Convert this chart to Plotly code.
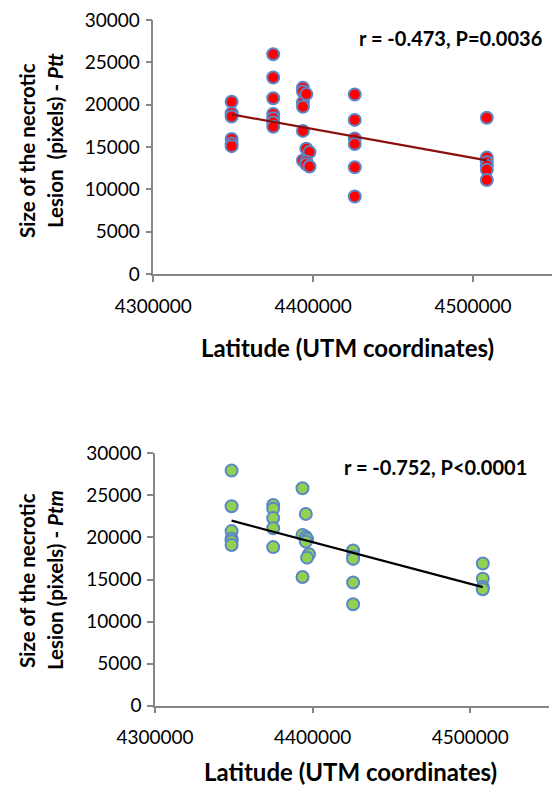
import numpy as np
import plotly.graph_objects as go

# the page adds an 8 px body margin, so the figure is 8 px smaller than the window
OFF = 8
W, H = 560 - OFF, 788 - OFF

# ---- Data: Ptt (top panel) ----
ptt_lat = ([4349000]*6 + [4375000]*7 +
           [4393600, 4393600, 4393600, 4393600, 4393600, 4395700, 4393600,
            4395700, 4397700, 4395700, 4395700, 4397700] +
           [4426000]*6 + [4508600]*6)
ptt_size = [20350, 19000, 18600, 15950, 15400, 15100,
            25950, 23200, 20750, 18900, 18400, 17900, 17400,
            22000, 21550, 20250, 19750, 16900, 21250, 13400,
            14800, 14400, 13300, 12950, 12700,
            21200, 18200, 16000, 15350, 12600, 9150,
            18450, 13750, 13200, 12800, 12300, 11100]

# ---- Data: Ptm (bottom panel) ----
ptm_lat = ([4348600]*6 + [4375000]*5 +
           [4393600, 4395700, 4393600, 4395700, 4396500, 4395700, 4397700, 4396500, 4393600] +
           [4425700]*5 + [4508000]*4)
ptm_size = [27950, 23700, 20750, 19850, 19550, 19100,
            23850, 23400, 22300, 21100, 18850,
            25850, 22800, 20300, 20050, 19800, 19500, 18000, 17600, 15300,
            18450, 17700, 17450, 14650, 12050,
            16900, 15100, 14100, 13850]

x_ticks = [4300000, 4400000, 4500000]
y_ticks = [0, 5000, 10000, 15000, 20000, 25000, 30000]

top_label = "r = -0.473, P=0.0036"
bot_label = "r = -0.752, P<0.0001"
x_title = "Latitude (UTM coordinates)"


def px_x(p):
    return (p - OFF) / W


def px_y(p):
    return 1 - (p - OFF) / H


def trend(lat, size):
    lat = np.array(lat, float)
    size = np.array(size, float)
    k, b = np.polyfit(lat, size, 1)
    xs = np.array([lat.min(), lat.max()])
    return xs, k * xs + b


fig = go.Figure()

edge = "#5B87C8"
fig.add_trace(go.Scatter(x=ptt_lat, y=ptt_size, mode="markers",
                         marker=dict(size=12, color="#FF0000", line=dict(color=edge, width=2)),
                         xaxis="x", yaxis="y", showlegend=False, cliponaxis=False))
tx, ty = trend(ptt_lat, ptt_size)
fig.add_trace(go.Scatter(x=tx, y=ty, mode="lines", line=dict(color="#8B1010", width=2.2),
                         xaxis="x", yaxis="y", showlegend=False))

fig.add_trace(go.Scatter(x=ptm_lat, y=ptm_size, mode="markers",
                         marker=dict(size=12, color="#92D050", line=dict(color=edge, width=2)),
                         xaxis="x2", yaxis="y2", showlegend=False, cliponaxis=False))
bx, by = trend(ptm_lat, ptm_size)
fig.add_trace(go.Scatter(x=bx, y=by, mode="lines", line=dict(color="#000000", width=2.2),
                         xaxis="x2", yaxis="y2", showlegend=False))

tickfont = dict(family="Lato", size=19, color="#000000")
axis_common = dict(showline=True, linecolor="#868686", linewidth=1.5, ticks="outside",
                   ticklen=6, tickwidth=1.5, tickcolor="#868686", showgrid=False,
                   zeroline=False, tickfont=tickfont, automargin=False,
                   ticklabeloverflow="allow")
xa = dict(ticklabelstandoff=8, **axis_common)
ya = dict(ticklabelstandoff=2, **axis_common)

fig.update_layout(
    template="none",
    width=W, height=H, margin=dict(l=0, r=0, t=0, b=0, pad=0),
    paper_bgcolor="white", plot_bgcolor="white",
    xaxis=dict(domain=[px_x(153.3), px_x(553)], range=[4300000, 4550000],
               tickvals=x_ticks, ticktext=[str(v) for v in x_ticks], anchor="y", **xa),
    yaxis=dict(domain=[px_y(274), px_y(20)], range=[0, 30000],
               tickvals=y_ticks, ticktext=[str(v) for v in y_ticks], anchor="x", **ya),
    xaxis2=dict(domain=[px_x(155), px_x(549)], range=[4300000, 4550000],
                tickvals=x_ticks, ticktext=[str(v) for v in x_ticks], anchor="y2", **xa),
    yaxis2=dict(domain=[px_y(705.7), px_y(453.3)], range=[0, 30000],
                tickvals=y_ticks, ticktext=[str(v) for v in y_ticks], anchor="x2", **ya),
)

f_r = dict(family="Lato", size=20, color="#000000")
f_x = dict(family="Lato", size=24, color="#000000")
f_y = dict(family="Lato", size=20.5, color="#000000")
ann = []
# correlation labels
ann.append(dict(text="<b>" + top_label + "</b>", x=px_x(357), y=px_y(38), xref="paper", yref="paper",
                xanchor="left", yanchor="middle", showarrow=False, font=f_r))
ann.append(dict(text="<b>" + bot_label + "</b>", x=px_x(342), y=px_y(467), xref="paper", yref="paper",
                xanchor="left", yanchor="middle", showarrow=False, font=f_r))
# x titles
ann.append(dict(text="<b>" + x_title + "</b>", x=px_x(347), y=px_y(347), xref="paper", yref="paper",
                xanchor="center", yanchor="middle", showarrow=False, font=f_x))
ann.append(dict(text="<b>" + x_title + "</b>", x=px_x(350), y=px_y(771), xref="paper", yref="paper",
                xanchor="center", yanchor="middle", showarrow=False, font=f_x))
# y titles
ann.append(dict(text="<b>Size of the necrotic</b>", x=px_x(27), y=px_y(151), xref="paper", yref="paper",
                xanchor="center", yanchor="middle", textangle=-90, showarrow=False, font=f_y))
ann.append(dict(text="<b>Lesion  (pixels) - <i>Ptt</i></b>", x=px_x(55), y=px_y(141), xref="paper",
                yref="paper", xanchor="center", yanchor="middle", textangle=-90, showarrow=False, font=f_y))
ann.append(dict(text="<b>Size of the necrotic</b>", x=px_x(27), y=px_y(581), xref="paper", yref="paper",
                xanchor="center", yanchor="middle", textangle=-90, showarrow=False, font=f_y))
ann.append(dict(text="<b>Lesion (pixels) - <i>Ptm</i></b>", x=px_x(55), y=px_y(580), xref="paper",
                yref="paper", xanchor="center", yanchor="middle", textangle=-90, showarrow=False, font=f_y))
fig.update_layout(annotations=ann)

fig.write_html("out.html")
